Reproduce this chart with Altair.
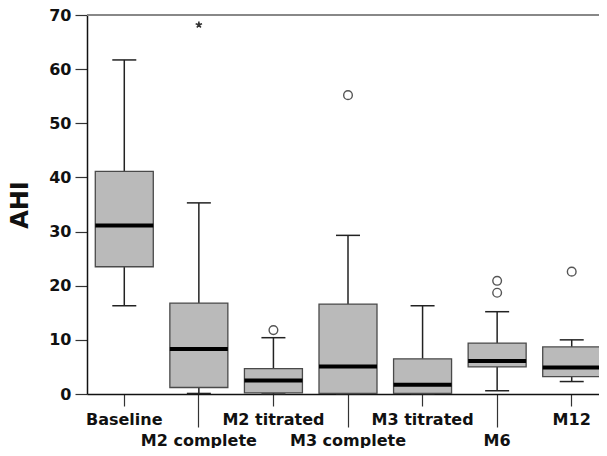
import altair as alt
import pandas as pd

cats = ["Baseline", "M2 complete", "M2 titrated", "M3 complete", "M3 titrated", "M6", "M12"]
lower = [16.3, 0.1, 0.0, 0.0, 0.0, 0.6, 2.3]
q1 = [23.5, 1.2, 0.2, 0.1, 0.1, 5.0, 3.2]
median = [31.1, 8.3, 2.5, 5.1, 1.7, 6.1, 4.9]
q3 = [41.1, 16.8, 4.7, 16.6, 6.5, 9.4, 8.7]
upper = [61.7, 35.3, 10.4, 29.3, 16.3, 15.2, 10.0]

out_cat = ["M2 titrated", "M3 complete", "M6", "M6", "M12"]
out_val = [11.8, 55.2, 20.9, 18.7, 22.6]
ext_cat = ["M2 complete"]
ext_val = [68.2]

box = pd.DataFrame({"cat": cats, "lower": lower, "q1": q1, "median": median, "q3": q3, "upper": upper})
outs = pd.DataFrame({"cat": out_cat, "val": out_val})
exts = pd.DataFrame({"cat": ext_cat, "val": ext_val})
top = pd.DataFrame({"v": [70]})

second_row = "indexof(['M2 complete','M3 complete','M6'], datum.value) >= 0"

xenc = alt.X(
    "cat:N", sort=cats, title=None,
    scale=alt.Scale(range=[0, 522], paddingInner=0, paddingOuter=0),
    axis=alt.Axis(
        labelAngle=0, labelFont="DejaVu Sans", labelFontWeight="bold", labelFontSize=16,
        labelColor="#111", labelPadding=5,
        tickSize={"condition": {"test": second_row, "value": 33}, "value": 12},
        tickColor="#333", tickWidth=1.2, domainColor="#111", domainWidth=1.5,
    ),
)
yscale = alt.Scale(domain=[0, 70], nice=False)
yaxis = alt.Axis(
    values=[0, 10, 20, 30, 40, 50, 60, 70], grid=False, title="AHI",
    titleFont="DejaVu Sans", titleFontWeight="bold", titleFontSize=24, titleColor="#111",
    titlePadding=16, labelFont="DejaVu Sans", labelFontWeight="bold", labelFontSize=16,
    labelColor="#111", labelPadding=4, tickSize=12, tickColor="#333", tickWidth=1.2,
    domainColor="#111", domainWidth=1.5,
)

base = alt.Chart(box)

whisk_lo = base.mark_rule(color="#222", strokeWidth=1.5).encode(
    x=xenc, y=alt.Y("lower:Q", scale=yscale, axis=yaxis), y2="q1:Q")
whisk_hi = base.mark_rule(color="#222", strokeWidth=1.5).encode(
    x=xenc, y=alt.Y("q3:Q", scale=yscale, axis=yaxis), y2="upper:Q")
cap_lo = base.mark_tick(color="#222", size=24, thickness=1.5, opacity=1).encode(
    x=xenc, y=alt.Y("lower:Q", scale=yscale, axis=yaxis))
cap_hi = base.mark_tick(color="#222", size=24, thickness=1.5, opacity=1).encode(
    x=xenc, y=alt.Y("upper:Q", scale=yscale, axis=yaxis))
boxes = base.mark_bar(size=58, color="#bababa", stroke="#4a4a4a", strokeWidth=1.3, opacity=1).encode(
    x=xenc, y=alt.Y("q1:Q", scale=yscale, axis=yaxis), y2="q3:Q")
med = base.mark_tick(color="#000", size=58, thickness=4, opacity=1).encode(
    x=xenc, y=alt.Y("median:Q", scale=yscale, axis=yaxis))
pts = alt.Chart(outs).mark_point(shape="circle", filled=False, color="#555", size=75,
                                 strokeWidth=1.4, opacity=1).encode(
    x=xenc, y=alt.Y("val:Q", scale=yscale, axis=yaxis))
star = "M0,-1L0,0M0.951,-0.309L0,0M0.588,0.809L0,0M-0.588,0.809L0,0M-0.951,-0.309L0,0"
stars = alt.Chart(exts).mark_point(shape=star, filled=False, color="#333", size=45,
                                   strokeWidth=1.6, opacity=1).encode(
    x=xenc, y=alt.Y("val:Q", scale=yscale, axis=yaxis))
topline = alt.Chart(top).mark_rule(color="#888", strokeWidth=2).encode(
    y=alt.Y("v:Q", scale=yscale, axis=yaxis))

chart = alt.layer(topline, whisk_lo, whisk_hi, cap_lo, cap_hi, boxes, med, pts, stars).properties(
    width=512, height=379,
    autosize=alt.AutoSizeParams(type="none"),
    padding={"left": 79, "top": 7, "right": 0, "bottom": 54},
).configure_view(stroke=None).configure(background="white")

chart.save("out.html", embed_options={"renderer": "svg", "actions": False})
